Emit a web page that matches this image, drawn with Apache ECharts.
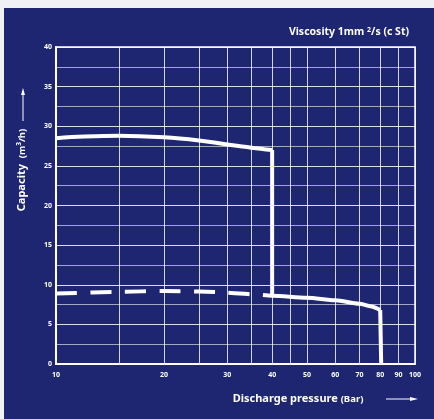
<!DOCTYPE html>
<html>
<head>
<meta charset="utf-8">
<script src="https://cdn.jsdelivr.net/npm/echarts@6/dist/echarts.min.js"></script>
<style>
html,body{margin:0;padding:0;background:#f0f1f5;width:434px;height:419px;overflow:hidden;}
#c{position:absolute;left:4px;top:8px;width:430px;height:411px;}
</style>
</head>
<body>
<div id="c"></div>
<script>
// Pressure gridlines / labels (Bar)
var xGridValues = [10, 15, 20, 25, 30, 35, 40, 45, 50, 60, 70, 80, 90, 100];
var xLabelValues = [10, 20, 30, 40, 50, 60, 70, 80, 90, 100];
// Capacity curves (m3/h) as [pressure, capacity]
var solidHigh = [[10, 28.5], [12, 28.7], [15, 28.8], [20, 28.6], [25, 28.2], [30, 27.7], [35, 27.3], [40, 27.0]];
var dropHigh = [[40, 27.0], [40, 8.6]];
var solidLow = [[37.7, 8.7], [40, 8.62], [50, 8.37], [60, 8.04], [70, 7.6], [75, 7.3], [80, 6.8]];
var dropLow = [[80, 6.8], [80.5, 0]];
var dashedLow = [[10, 8.9], [15, 9.1], [20, 9.2], [25, 9.15], [30, 9.0], [35, 8.8], [37.7, 8.7]];

var FONT = 'Noto Sans';
var chart = echarts.init(document.getElementById('c'));
function lineSeries(data, opts) {
  return Object.assign({
    type: 'line', data: data, symbol: 'none', silent: true,
    lineStyle: { color: '#ffffff', width: 4 }, z: 5
  }, opts || {});
}
chart.setOption({
  backgroundColor: '#1e2571',
  animation: false,
  grid: { left: 52, right: 19, top: 39, bottom: 55, show: true, borderColor: '#ffffff', borderWidth: 1.5, backgroundColor: 'transparent' },
  xAxis: {
    type: 'log', logBase: 10, min: 10, max: 100,
    axisLine: { show: true, lineStyle: { color: '#ffffff', width: 2 } },
    axisTick: { show: false, customValues: xGridValues },
    axisLabel: { customValues: xLabelValues, color: '#ffffff', fontFamily: FONT, fontWeight: 'bold', fontSize: 7, margin: 7 },
    splitLine: { show: true, lineStyle: { color: 'rgba(255,255,255,0.8)', width: 1 } }
  },
  yAxis: {
    type: 'value', min: 0, max: 40, interval: 5,
    axisLine: { show: true, lineStyle: { color: '#ffffff', width: 2 } },
    axisTick: { show: false },
    minorTick: { show: false, splitNumber: 2 },
    minorSplitLine: { show: true, lineStyle: { color: 'rgba(255,255,255,0.6)', width: 1 } },
    axisLabel: { color: '#ffffff', fontFamily: FONT, fontWeight: 'bold', fontSize: 7, margin: 4 },
    splitLine: { show: true, lineStyle: { color: 'rgba(255,255,255,0.85)', width: 1 } }
  },
  series: [
    lineSeries(solidHigh, { smooth: 0.4 }),
    lineSeries(dropHigh),
    lineSeries(solidLow, { smooth: 0.3, smoothMonotone: 'x' }),
    lineSeries(dropLow),
    lineSeries(dashedLow, { smooth: 0.3, lineStyle: { color: '#ffffff', width: 4, type: [21, 13.5] } })
  ],
  graphic: [
    { type: 'text', x: 405, y: 24, style: {
        text: '{a|Viscosity 1mm }{s|2}{a|/s (c St)}', align: 'right', verticalAlign: 'middle',
        rich: {
          a: { fill: '#ffffff', fontFamily: FONT, fontWeight: 'bold', fontSize: 10.5 },
          s: { fill: '#ffffff', fontFamily: FONT, fontWeight: 'bold', fontSize: 7, verticalAlign: 'top', padding: [0, 0, 5, 0] }
        } } },
    { type: 'text', x: 18, y: 162, rotation: Math.PI / 2, style: {
        text: '{a|Capacity  }{b|(m}{s|3}{b|/h)}', align: 'center', verticalAlign: 'middle',
        rich: {
          a: { fill: '#ffffff', fontFamily: FONT, fontWeight: 'bold', fontSize: 11 },
          b: { fill: '#ffffff', fontFamily: FONT, fontWeight: 'bold', fontSize: 9.5 },
          s: { fill: '#ffffff', fontFamily: FONT, fontWeight: 'bold', fontSize: 6.5, padding: [0, 0, 5, 0] }
        } } },
    { type: 'line', shape: { x1: 19, y1: 113, x2: 19, y2: 86 }, style: { stroke: '#ffffff', lineWidth: 1 } },
    { type: 'polygon', shape: { points: [[19, 80], [17, 87], [21, 87]] }, style: { fill: '#ffffff' } },
    { type: 'text', x: 294, y: 391, style: {
        text: '{a|Discharge pressure }{b|(Bar)}', align: 'center', verticalAlign: 'middle',
        rich: {
          a: { fill: '#ffffff', fontFamily: FONT, fontWeight: 'bold', fontSize: 11 },
          b: { fill: '#ffffff', fontFamily: FONT, fontWeight: 'bold', fontSize: 9.5 }
        } } },
    { type: 'line', shape: { x1: 382, y1: 391, x2: 408, y2: 391 }, style: { stroke: '#ffffff', lineWidth: 1 } },
    { type: 'polygon', shape: { points: [[414, 391], [406, 389], [406, 393]] }, style: { fill: '#ffffff' } }
  ]
});
</script>
</body>
</html>
